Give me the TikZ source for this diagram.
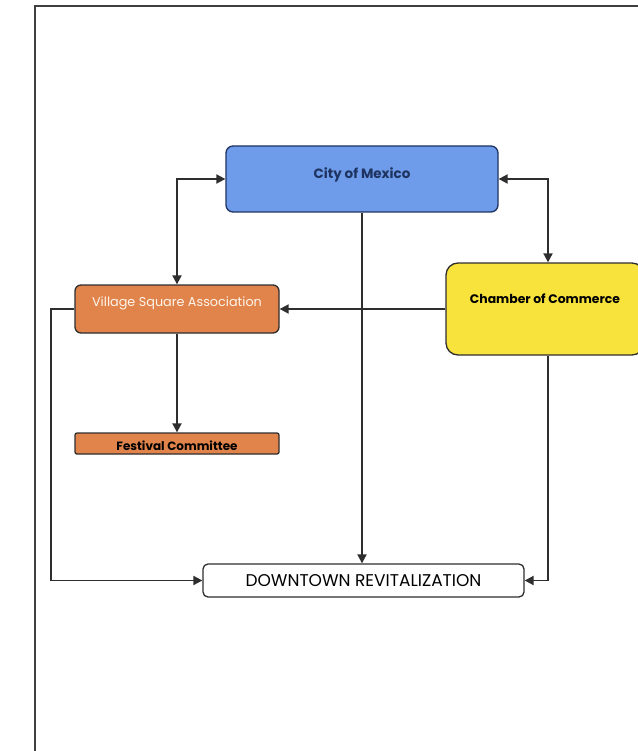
\documentclass[tikz,border=0pt]{standalone}
\usepackage{fontspec}
\setmainfont{Poppins}
\usetikzlibrary{arrows.meta}

\definecolor{cityblue}{HTML}{6E9CEB}
\definecolor{cityline}{HTML}{1E3360}
\definecolor{villageorange}{HTML}{E0844B}
\definecolor{chamberyellow}{HTML}{F8E23C}
\definecolor{lineblack}{HTML}{2E2E2E}

\begin{document}
\begin{tikzpicture}[
        x=1pt, y=-1pt,
        box/.style = {rectangle, draw=lineblack, line width=1.3pt, inner sep=0pt},
        arr/.style = {-{Triangle[length=9pt,width=9pt]}, draw=lineblack, line width=1.9pt},
        both/.style = {{Triangle[length=9pt,width=9pt]}-{Triangle[length=9pt,width=9pt]}, draw=lineblack, line width=1.9pt}
    ]
        \useasboundingbox (0,0) rectangle (637,751);
        % Frame
        \draw[line width=1.8pt, draw=black!75] (35,751) -- (35,6) -- (640,6);

        % Boxes
        \node[box, draw=cityline, fill=cityblue, rounded corners=7pt, minimum width=272pt, minimum height=66pt,
              text height=9pt, text depth=9pt, text=cityline, font=\fontsize{13.5}{15}\selectfont\bfseries]
              (city) at (362,179) {City of Mexico};
        \node[box, fill=villageorange, rounded corners=6pt, minimum width=204pt, minimum height=48pt,
              text height=9pt, text depth=15pt, text=white!92!orange, font=\fontsize{12.8}{14}\selectfont]
              (village) at (177,309) {Village Square Association};
        \node[box, fill=villageorange, rounded corners=2pt, minimum width=204pt, minimum height=21pt,
              text height=15pt, text depth=1pt, font=\fontsize{12}{14}\selectfont\bfseries]
              (festival) at (177,443.5) {Festival Committee};
        \node[box, fill=chamberyellow, rounded corners=12pt, minimum width=198pt, minimum height=92pt,
              text height=9pt, text depth=20pt, font=\fontsize{12.4}{14}\selectfont\bfseries]
              (chamber) at (545,309) {Chamber of Commerce};
        \node[box, fill=white, rounded corners=5pt, minimum width=321pt, minimum height=33pt,
              font=\fontsize{17}{19}\selectfont]
              (downtown) at (363.5,580.5) {DOWNTOWN REVITALIZATION};

        % Arrows
        \draw[both] (city.west) -| (village.north);
        \draw[both] (city.east) -| ([xshift=3pt]chamber.north);
        \draw[arr] (city.south) -- (city.south |- downtown.north);
        \draw[arr] (chamber.west) -- (village.east);
        \draw[arr] (village.south) -- (festival.north);
        \draw[arr] (village.west) -- ++(-23,0) |- (downtown.west);
        \draw[arr] ([xshift=3pt]chamber.south) |- (downtown.east);
    \end{tikzpicture}
\end{document}
